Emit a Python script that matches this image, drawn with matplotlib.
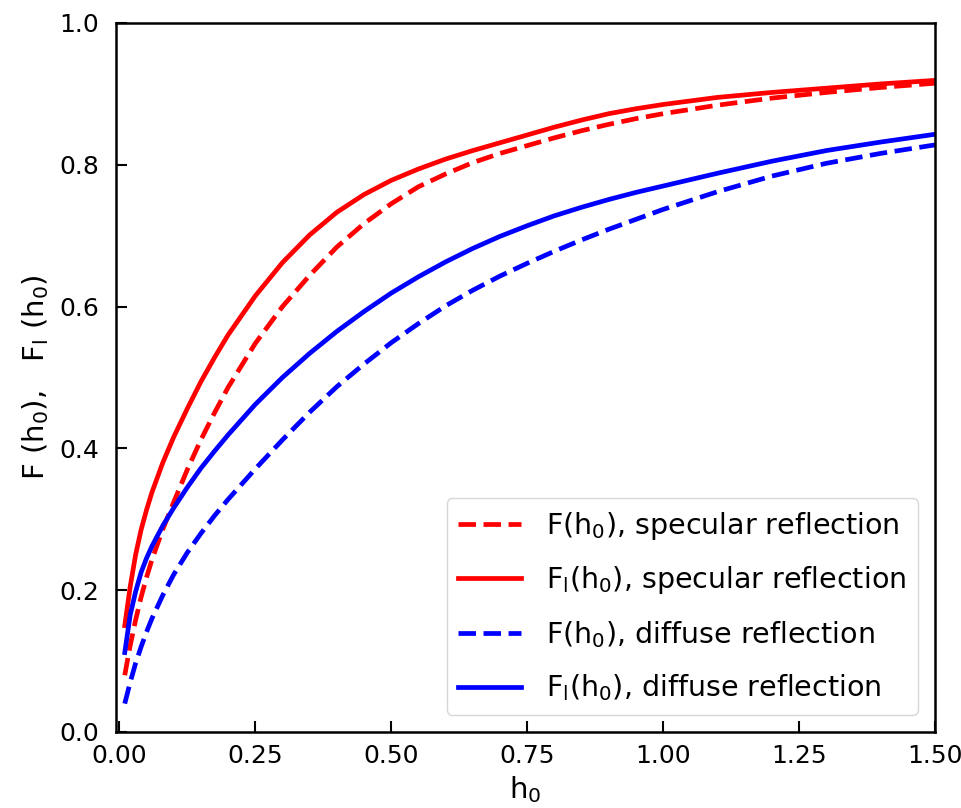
import matplotlib
matplotlib.use('Agg')
import matplotlib.pyplot as plt

# h0 grid and curve values
h0 = [0.01, 0.02, 0.03, 0.04, 0.05, 0.06, 0.08, 0.10, 0.125, 0.15, 0.175,
      0.2, 0.25, 0.3, 0.35, 0.4, 0.45, 0.5, 0.55, 0.6, 0.65, 0.7, 0.75, 0.8,
      0.85, 0.9, 0.95, 1.0, 1.1, 1.2, 1.3, 1.4, 1.5]

F_spec = [0.080, 0.122, 0.158, 0.190, 0.218, 0.243, 0.286, 0.324, 0.370,
          0.412, 0.450, 0.486, 0.548, 0.600, 0.644, 0.684, 0.717, 0.745,
          0.769, 0.787, 0.803, 0.816, 0.827, 0.838, 0.848, 0.857, 0.865,
          0.872, 0.884, 0.894, 0.902, 0.909, 0.915]

Fl_spec = [0.150, 0.205, 0.250, 0.285, 0.313, 0.338, 0.380, 0.416, 0.456,
           0.494, 0.528, 0.560, 0.615, 0.662, 0.701, 0.733, 0.758, 0.778,
           0.794, 0.808, 0.820, 0.831, 0.842, 0.853, 0.863, 0.872, 0.879,
           0.885, 0.895, 0.902, 0.908, 0.914, 0.919]

F_diff = [0.040, 0.070, 0.097, 0.120, 0.141, 0.160, 0.193, 0.222, 0.253,
          0.280, 0.305, 0.328, 0.371, 0.412, 0.451, 0.487, 0.519, 0.549,
          0.576, 0.601, 0.623, 0.643, 0.661, 0.678, 0.694, 0.709, 0.723,
          0.737, 0.762, 0.784, 0.802, 0.816, 0.828]

Fl_diff = [0.112, 0.165, 0.198, 0.225, 0.245, 0.262, 0.291, 0.316, 0.345,
           0.372, 0.396, 0.419, 0.462, 0.500, 0.534, 0.565, 0.593, 0.619,
           0.642, 0.663, 0.682, 0.699, 0.714, 0.728, 0.740, 0.751, 0.761,
           0.770, 0.788, 0.805, 0.820, 0.832, 0.843]

plt.rcParams['font.size'] = 18
plt.rcParams['mathtext.default'] = 'regular'

fig = plt.figure(figsize=(9.61, 8.08), dpi=100)
ax = fig.add_axes([0.1202, 0.0941, 0.8528, 0.8775])

lw = 3.4
ax.plot(h0, F_spec, '--', color='red', lw=lw, label=r'F(h$_0$), specular reflection')
ax.plot(h0, Fl_spec, '-', color='red', lw=lw, label=r'F$_l$(h$_0$), specular reflection')
ax.plot(h0, F_diff, '--', color='blue', lw=lw, label=r'F(h$_0$), diffuse reflection')
ax.plot(h0, Fl_diff, '-', color='blue', lw=lw, label=r'F$_l$(h$_0$), diffuse reflection')

ax.set_xlim(-0.007, 1.5)
ax.set_ylim(0, 1.0)
ax.set_xticks([0, 0.25, 0.5, 0.75, 1.0, 1.25, 1.5])
ax.set_xticklabels(['0.00', '0.25', '0.50', '0.75', '1.00', '1.25', '1.50'])
ax.set_yticks([0, 0.2, 0.4, 0.6, 0.8, 1.0])
ax.set_yticklabels(['0.0', '0.2', '0.4', '0.6', '0.8', '1.0'])
ax.tick_params(direction='in', length=8, width=1.5)
ax.tick_params(axis='x', pad=9)
ax.tick_params(axis='y', pad=12)
for s in ax.spines.values():
    s.set_linewidth(1.8)

ax.set_xlabel(r'h$_0$', fontsize=21, labelpad=4)
ax.set_ylabel(r'F (h$_0$),   F$_l$ (h$_0$)', fontsize=21, labelpad=6)

ax.legend(loc='lower right', fontsize=20.5, handlelength=2.2,
          handletextpad=0.9, labelspacing=0.8, borderaxespad=0.6)

fig.savefig('out.png', dpi=100)
